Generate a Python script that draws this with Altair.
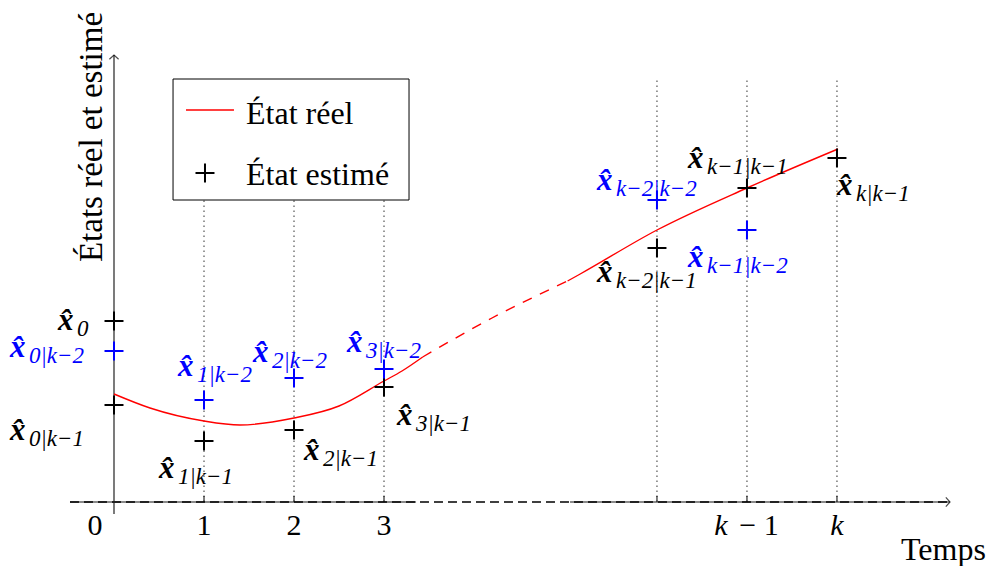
import altair as alt
import pandas as pd

# ---------------- data ----------------
# time positions (k-2, k-1, k are drawn after the break of the time axis)
T_K2, T_K1, T_K = 6.033, 7.033, 8.033

# true state (three pieces: solid, dashed across the break, solid)
real_t_a = [0.0, 0.4, 1.0, 1.4, 2.0, 2.5, 3.0, 3.2, 3.43]
real_v_a = [2.16, 1.88, 1.62, 1.54, 1.68, 1.92, 2.42, 2.62, 2.90]
real_t_b = [3.43, 4.2, 5.04]
real_v_b = [2.90, 3.68, 4.42]
real_t_c = [5.04, 5.18, 6.033, 7.033, 8.044]
real_v_c = [4.42, 4.56, 5.44, 6.28, 7.06]

# estimates given k-1 (black)
upd_t = [0, 0, 1, 2, 3, T_K2, T_K1, T_K]
upd_v = [3.62, 1.94, 1.22, 1.44, 2.30, 5.08, 6.28, 6.88]
upd_sub = ["0", "0|k−1", "1|k−1", "2|k−1", "3|k−1", "k−2|k−1", "k−1|k−1", "k|k−1"]

# estimates given k-2 (blue)
pred_t = [0, 1, 2, 3, T_K2, T_K1]
pred_v = [3.02, 2.04, 2.48, 2.66, 6.04, 5.44]
pred_sub = ["0|k−2", "1|k−2", "2|k−2", "3|k−2", "k−2|k−2", "k−1|k−2"]

grid_t = [1, 2, 3, T_K2, T_K1, T_K]
tick_t = [0, 1, 2, 3, T_K1, T_K]
tick_text = ["0", "1", "2", "3", "k", "k"]
legend_text = ["État réel", "État estimé"]
x_title = "Temps"
y_title = "États réel et estimé"

# ---------------- styling ----------------
FONT = "Liberation Serif"
RED = "#ff0000"
BLUE = "#0000ff"
PLUS = "M-1,0L1,0M0,-1L0,1"

XS = alt.Scale(domain=[-1.177778, 9.733333], nice=False, zero=False)
YS = alt.Scale(domain=[-1.28, 9.88], nice=False, zero=False)


def X(f="x"):
    return alt.X(f"{f}:Q", scale=XS, axis=None)


def Y(f="y"):
    return alt.Y(f"{f}:Q", scale=YS, axis=None)


layers = []

# dotted vertical guides
grid_df = pd.DataFrame({"x": grid_t, "y": [0] * len(grid_t), "y2": [8.48] * len(grid_t)})
layers.append(
    alt.Chart(grid_df).mark_rule(strokeDash=[1.5, 3.5], color="#333333", strokeWidth=1)
    .encode(x=X(), y=Y(), y2="y2:Q")
)

# legend frame (white, hides guides)
leg_box = pd.DataFrame({"x": [0.656], "x2": [3.278], "y": [8.46], "y2": [6.04]})
layers.append(
    alt.Chart(leg_box).mark_rect(fill="white", stroke="black", strokeWidth=1)
    .encode(x=X(), x2="x2:Q", y=Y(), y2="y2:Q")
)

# time axis
axis_solid = pd.DataFrame({"x": [-0.489, 5.067], "x2": [3.356, 9.289], "y": [0, 0]})
layers.append(
    alt.Chart(axis_solid).mark_rule(color="#8a8a8a", strokeWidth=2)
    .encode(x=X(), x2="x2:Q", y=Y())
)
axis_full = pd.DataFrame({"x": [-0.489], "x2": [9.289], "y": [0]})
layers.append(
    alt.Chart(axis_full).mark_rule(color="black", strokeWidth=1.3, strokeDash=[9, 5])
    .encode(x=X(), x2="x2:Q", y=Y())
)
layers.append(
    alt.Chart(pd.DataFrame({"x": [9.289], "y": [0]}))
    .mark_point(shape="M-1,-1.1L0,0L-1,1.1", filled=False, size=70, color="black", strokeWidth=1.2)
    .encode(x=X(), y=Y())
)
# ticks
tick_df = pd.DataFrame({"x": grid_t, "y": [0] * len(grid_t), "y2": [0.12] * len(grid_t)})
layers.append(
    alt.Chart(tick_df).mark_rule(color="black", strokeWidth=1).encode(x=X(), y=Y(), y2="y2:Q")
)

# value axis
layers.append(
    alt.Chart(pd.DataFrame({"x": [0], "y": [-0.24], "y2": [8.94]}))
    .mark_rule(color="#222222", strokeWidth=1.2)
    .encode(x=X(), y=Y(), y2="y2:Q")
)
layers.append(
    alt.Chart(pd.DataFrame({"x": [0], "y": [8.94]}))
    .mark_point(shape="M-1.1,1L0,0L1.1,1", filled=False, size=70, color="black", strokeWidth=1.2)
    .encode(x=X(), y=Y())
)

# true state
for tt, vv, dash in [(real_t_a, real_v_a, None), (real_t_b, real_v_b, [10, 9]), (real_t_c, real_v_c, None)]:
    kw = dict(color=RED, strokeWidth=1.4, interpolate="monotone")
    if dash:
        kw["strokeDash"] = dash
    layers.append(
        alt.Chart(pd.DataFrame({"x": tt, "y": vv})).mark_line(**kw).encode(x=X(), y=Y())
    )

# estimate markers
upd_df = pd.DataFrame({"x": upd_t, "y": upd_v, "sub": upd_sub, "i": list(range(len(upd_t)))})
pred_df = pd.DataFrame({"x": pred_t, "y": pred_v, "sub": pred_sub, "i": list(range(len(pred_t)))})
for df, col in [(upd_df, "black"), (pred_df, BLUE)]:
    layers.append(
        alt.Chart(df).mark_point(shape=PLUS, filled=False, size=360, strokeWidth=2, color=col, opacity=1)
        .encode(x=X(), y=Y())
    )

# estimate labels  (pixel offsets of each label from its marker)
upd_off = [(-56, 9), (-104, 35), (-45, 37), (10, 30), (13, 38), (-60, 34), (-59, -20), (0, 37)]
pred_off = [(-104, 6), (-26, -24), (-41, -16), (-37, -17), (-60, -10), (-59, 37)]

for df, offs, col in [(upd_df, upd_off, "black"), (pred_df, pred_off, BLUE)]:
    for i, (dx, dy) in enumerate(offs):
        base = alt.Chart(df).transform_filter(alt.datum.i == i)
        layers.append(
            base.mark_text(text="x\u0302", font=FONT, fontSize=31, fontWeight="bold",
                           fontStyle="italic", align="left", baseline="alphabetic",
                           dx=dx, dy=dy, color=col)
            .encode(x=X(), y=Y())
        )
        layers.append(
            base.mark_text(font=FONT, fontSize=23, fontStyle="italic", align="left",
                           baseline="alphabetic", dx=dx + 19, dy=dy + 6, color=col)
            .encode(x=X(), y=Y(), text="sub:N")
        )

# tick labels
tl_df = pd.DataFrame({"x": tick_t, "y": [0] * len(tick_t), "t": tick_text, "i": list(range(len(tick_t)))})
layers.append(
    alt.Chart(tl_df).transform_filter("datum.i == 0")
    .mark_text(font=FONT, fontSize=30, align="center", baseline="alphabetic", dx=-19, dy=33, color="black")
    .encode(x=X(), y=Y(), text="t:N")
)
layers.append(
    alt.Chart(tl_df).transform_filter("datum.i >= 1 && datum.i <= 3")
    .mark_text(font=FONT, fontSize=30, align="center", baseline="alphabetic", dy=33, color="black")
    .encode(x=X(), y=Y(), text="t:N")
)
layers.append(
    alt.Chart(tl_df).transform_filter("datum.i == 4")
    .mark_text(font=FONT, fontSize=30, fontStyle="italic", align="center", baseline="alphabetic",
               dx=-26, dy=33, color="black")
    .encode(x=X(), y=Y(), text="t:N")
)
layers.append(
    alt.Chart(tl_df).transform_filter("datum.i == 4")
    .mark_text(text="− 1", font=FONT, fontSize=30, align="center", baseline="alphabetic",
               dx=12, dy=33, color="black")
    .encode(x=X(), y=Y())
)
layers.append(
    alt.Chart(tl_df).transform_filter("datum.i == 5")
    .mark_text(font=FONT, fontSize=30, fontStyle="italic", align="center", baseline="alphabetic",
               dy=33, color="black")
    .encode(x=X(), y=Y(), text="t:N")
)

# axis titles
layers.append(
    alt.Chart(pd.DataFrame({"x": [9.289], "y": [0], "t": [x_title]}))
    .mark_text(font=FONT, fontSize=32, align="left", baseline="alphabetic", dx=-49, dy=58, color="black")
    .encode(x=X(), y=Y(), text="t:N")
)
layers.append(
    alt.Chart(pd.DataFrame({"x": [0], "y": [8.94], "t": [y_title]}))
    .mark_text(font=FONT, fontSize=33, align="center", baseline="middle", angle=270,
               dx=-82, dy=-22, color="black")
    .encode(x=X(), y=Y(), text="t:N")
)

# legend content
layers.append(
    alt.Chart(pd.DataFrame({"x": [0.8], "x2": [1.333], "y": [7.84]}))
    .mark_rule(color=RED, strokeWidth=1.5).encode(x=X(), x2="x2:Q", y=Y())
)
layers.append(
    alt.Chart(pd.DataFrame({"x": [1.011], "y": [6.58]}))
    .mark_point(shape=PLUS, filled=False, size=360, strokeWidth=2, color="black", opacity=1)
    .encode(x=X(), y=Y())
)
layers.append(
    alt.Chart(pd.DataFrame({"x": [1.467, 1.467], "y": [7.56, 6.34], "t": legend_text}))
    .mark_text(font=FONT, fontSize=32, align="left", baseline="alphabetic", color="black")
    .encode(x=X(), y=Y(), text="t:N")
)

chart = (
    alt.layer(*layers)
    .properties(width=982, height=558, autosize=alt.AutoSizeParams(type="none"), padding=0,
                background="white")
    .configure_view(stroke=None)
)

chart.save("out.html", embed_options={"renderer": "svg", "actions": False})
